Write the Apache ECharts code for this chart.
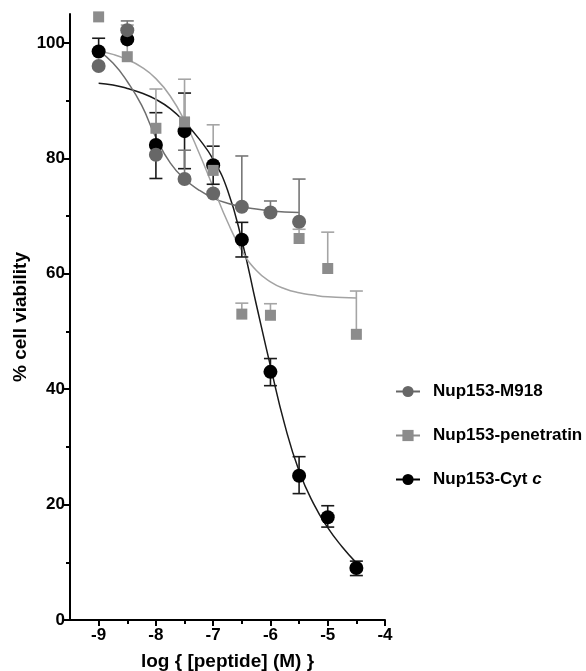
<!DOCTYPE html>
<html>
<head>
<meta charset="utf-8">
<script src="https://cdn.jsdelivr.net/npm/echarts@6/dist/echarts.min.js"></script>
<style>
html,body{margin:0;padding:0;background:#fff;}
#chart{width:586px;height:671px;}
</style>
</head>
<body>
<div id="chart"></div>
<script>
// Measured points
const xs = [-9, -8.5, -8, -7.5, -7, -6.5, -6, -5.5, -5, -4.5];
const m918Mean  = [96.0, 102.2, 80.6, 76.4, 73.9, 71.6, 70.6, 69.0];
const m918Upper = [96.0, 103.8, 80.6, 81.4, 73.9, 80.4, 72.6, 76.4];
const m918Lower = [96.0, 102.2, 80.6, 76.4, 73.9, 71.6, 70.6, 69.0];
const penMean  = [104.5, 97.6, 85.2, 86.3, 77.9, 53.0, 52.8, 66.1, 60.9, 49.5];
const penUpper = [104.5, 103.1, 92.0, 93.7, 85.8, 54.9, 54.8, 67.7, 67.2, 57.0];
const penLower = [104.5, 97.6, 85.2, 86.3, 77.9, 53.0, 52.8, 66.1, 60.9, 49.5];
const cytMean  = [98.5, 100.6, 82.3, 84.7, 78.8, 65.9, 43.0, 25.0, 17.8, 9.0];
const cytUpper = [100.8, 100.6, 87.9, 91.3, 82.1, 68.9, 45.3, 28.3, 19.8, 10.2];
const cytLower = [98.5, 100.6, 76.5, 78.2, 75.5, 62.9, 40.6, 21.9, 16.1, 7.7];

// Fitted curves
const curveX = [-9, -8.75, -8.5, -8.25, -8, -7.75, -7.5, -7.25, -7, -6.75, -6.5, -6.25, -6, -5.75, -5.5, -5.25, -5, -4.75, -4.5];
const m918Curve = [98.6, 96.5, 93.3, 89.2, 83.6, 79.2, 76.4, 74.5, 73.1, 72.2, 71.6, 71.2, 70.9, 70.7, 70.6];
const penCurve  = [98.6, 98.0, 97.1, 95.8, 93.8, 90.8, 86.5, 81.0, 75.0, 69.0, 64.0, 60.6, 58.6, 57.4, 56.7, 56.3, 56.0, 55.9, 55.8];
const cytCurve  = [93.0, 92.7, 92.1, 91.3, 90.2, 88.6, 86.3, 83.4, 79.8, 74.5, 65.8, 54.8, 44.0, 33.8, 25.8, 20.2, 16.0, 12.7, 9.9];

// Axis ticks
const xMajorTicks = [-9, -8, -7, -6, -5, -4];
const xMinorTicks = [-8.5, -7.5, -6.5, -5.5, -4.5];
const yMajorTicks = [0, 20, 40, 60, 80, 100];
const yMinorTicks = [10, 30, 50, 70, 90];

const names = ['Nup153-M918', 'Nup153-penetratin', 'Nup153-Cyt c'];
const colM918 = '#676767', colPen = '#8c8c8c', colCyt = '#000000';

function zipPts(x, y) { return y.map((v, i) => [x[i], v]); }
function errData(mean, lo, hi) { return mean.map((v, i) => [xs[i], v, lo[i], hi[i]]); }

function errRender(color) {
  return function (params, api) {
    const x = api.value(0), v = api.value(1), lo = api.value(2), hi = api.value(3);
    if (lo === hi) return null;
    const pLo = api.coord([x, lo]), pHi = api.coord([x, hi]);
    const cw = 6.5;
    const style = { stroke: color, lineWidth: 1.6, fill: null };
    const children = [{ type: 'line', shape: { x1: pLo[0], y1: pLo[1], x2: pHi[0], y2: pHi[1] }, style }];
    if (hi > v) children.push({ type: 'line', shape: { x1: pHi[0] - cw, y1: pHi[1], x2: pHi[0] + cw, y2: pHi[1] }, style });
    if (lo < v) children.push({ type: 'line', shape: { x1: pLo[0] - cw, y1: pLo[1], x2: pLo[0] + cw, y2: pLo[1] }, style });
    return { type: 'group', children };
  };
}

const font = 'Liberation Sans, Arial, Helvetica, sans-serif';
const chart = echarts.init(document.getElementById('chart'), null, { renderer: 'canvas' });

const axisLine = { show: true, lineStyle: { color: '#000', width: 2 } };

chart.setOption({
  animation: false,
  backgroundColor: '#fff',
  grid: { left: 70, right: 201, top: 14, bottom: 51, containLabel: false, outerBoundsMode: 'none' },
  xAxis: [{
    type: 'value', min: -9.5, max: -4,
    axisLine,
    axisTick: { show: true, length: 6, lineStyle: { color: '#000', width: 2 }, customValues: xMajorTicks },
    axisLabel: { show: true, customValues: xMajorTicks, margin: 7, color: '#000', fontFamily: font, fontWeight: 'bold', fontSize: 17 },
    splitLine: { show: false },
    name: 'log { [peptide] (M) }', nameLocation: 'middle', nameGap: 32, nameMoveOverlap: false,
    nameTextStyle: { color: '#000', fontFamily: font, fontWeight: 'bold', fontSize: 19 }
  }, {
    type: 'value', min: -9.5, max: -4, position: 'bottom', offset: 0,
    axisLine: { show: false },
    axisTick: { show: true, length: 4, lineStyle: { color: '#000', width: 2 }, customValues: xMinorTicks },
    axisLabel: { show: false },
    splitLine: { show: false }
  }],
  yAxis: [{
    type: 'value', min: 0, max: 105,
    axisLine,
    axisTick: { show: true, length: 6, lineStyle: { color: '#000', width: 2 }, customValues: yMajorTicks },
    axisLabel: { show: true, customValues: yMajorTicks, margin: 5, color: '#000', fontFamily: font, fontWeight: 'bold', fontSize: 17 },
    splitLine: { show: false },
    name: '% cell viability', nameLocation: 'middle', nameGap: 40, nameRotate: 90, nameMoveOverlap: false,
    nameTextStyle: { color: '#000', fontFamily: font, fontWeight: 'bold', fontSize: 19 }
  }, {
    type: 'value', min: 0, max: 105, position: 'left', offset: 0,
    axisLine: { show: false },
    axisTick: { show: true, length: 4, lineStyle: { color: '#000', width: 2 }, customValues: yMinorTicks },
    axisLabel: { show: false },
    splitLine: { show: false }
  }],
  legend: {
    orient: 'vertical', left: 390, top: 378, itemWidth: 24, itemHeight: 14, itemGap: 27,
    textStyle: { color: '#000', fontFamily: font, fontWeight: 'bold', fontSize: 17, padding: [0, 0, 0, 8],
      rich: { i: { fontFamily: font, fontWeight: 'bold', fontStyle: 'italic', fontSize: 17, color: '#000' } } },
    formatter: function (n) { return n === 'Nup153-Cyt c' ? 'Nup153-Cyt {i|c}' : n; },
    data: [
      { name: names[0], itemStyle: { color: colM918 }, lineStyle: { color: colM918, width: 2, opacity: 1 } },
      { name: names[1], itemStyle: { color: colPen }, lineStyle: { color: colPen, width: 2, opacity: 1 } },
      { name: names[2], itemStyle: { color: colCyt }, lineStyle: { color: colCyt, width: 2, opacity: 1 } }
    ]
  },
  series: [
    // curves
    { type: 'line', data: zipPts(curveX, cytCurve), showSymbol: false, symbol: 'none', smooth: 0.5,
      lineStyle: { color: '#1a1a1a', width: 1.5 }, z: 1, silent: true },
    { type: 'line', data: zipPts(curveX, m918Curve), showSymbol: false, symbol: 'none', smooth: 0.5,
      lineStyle: { color: '#6e6e6e', width: 1.5 }, z: 1, silent: true },
    { type: 'line', data: zipPts(curveX, penCurve), showSymbol: false, symbol: 'none', smooth: 0.5,
      lineStyle: { color: '#a3a3a3', width: 1.5 }, z: 1, silent: true },
    // error bars
    { type: 'custom', renderItem: errRender('#1a1a1a'), data: errData(cytMean, cytLower, cytUpper), z: 2, silent: true,
      encode: { x: 0, y: [2, 3] } },
    { type: 'custom', renderItem: errRender('#777777'), data: errData(m918Mean, m918Lower, m918Upper), z: 2, silent: true,
      encode: { x: 0, y: [2, 3] } },
    { type: 'custom', renderItem: errRender('#a5a5a5'), data: errData(penMean, penLower, penUpper), z: 2, silent: true,
      encode: { x: 0, y: [2, 3] } },
    // points
    { name: names[2], type: 'line', data: zipPts(xs, cytMean), symbol: 'circle', symbolSize: 14, showSymbol: true,
      itemStyle: { color: colCyt }, lineStyle: { width: 0, opacity: 0 }, z: 3 },
    { name: names[0], type: 'line', data: zipPts(xs, m918Mean), symbol: 'circle', symbolSize: 14, showSymbol: true,
      itemStyle: { color: colM918 }, lineStyle: { width: 0, opacity: 0 }, z: 4 },
    { name: names[1], type: 'line', data: zipPts(xs, penMean), symbol: 'rect', symbolSize: 11, showSymbol: true,
      itemStyle: { color: colPen }, lineStyle: { width: 0, opacity: 0 }, z: 5 }
  ]
});
</script>
</body>
</html>
